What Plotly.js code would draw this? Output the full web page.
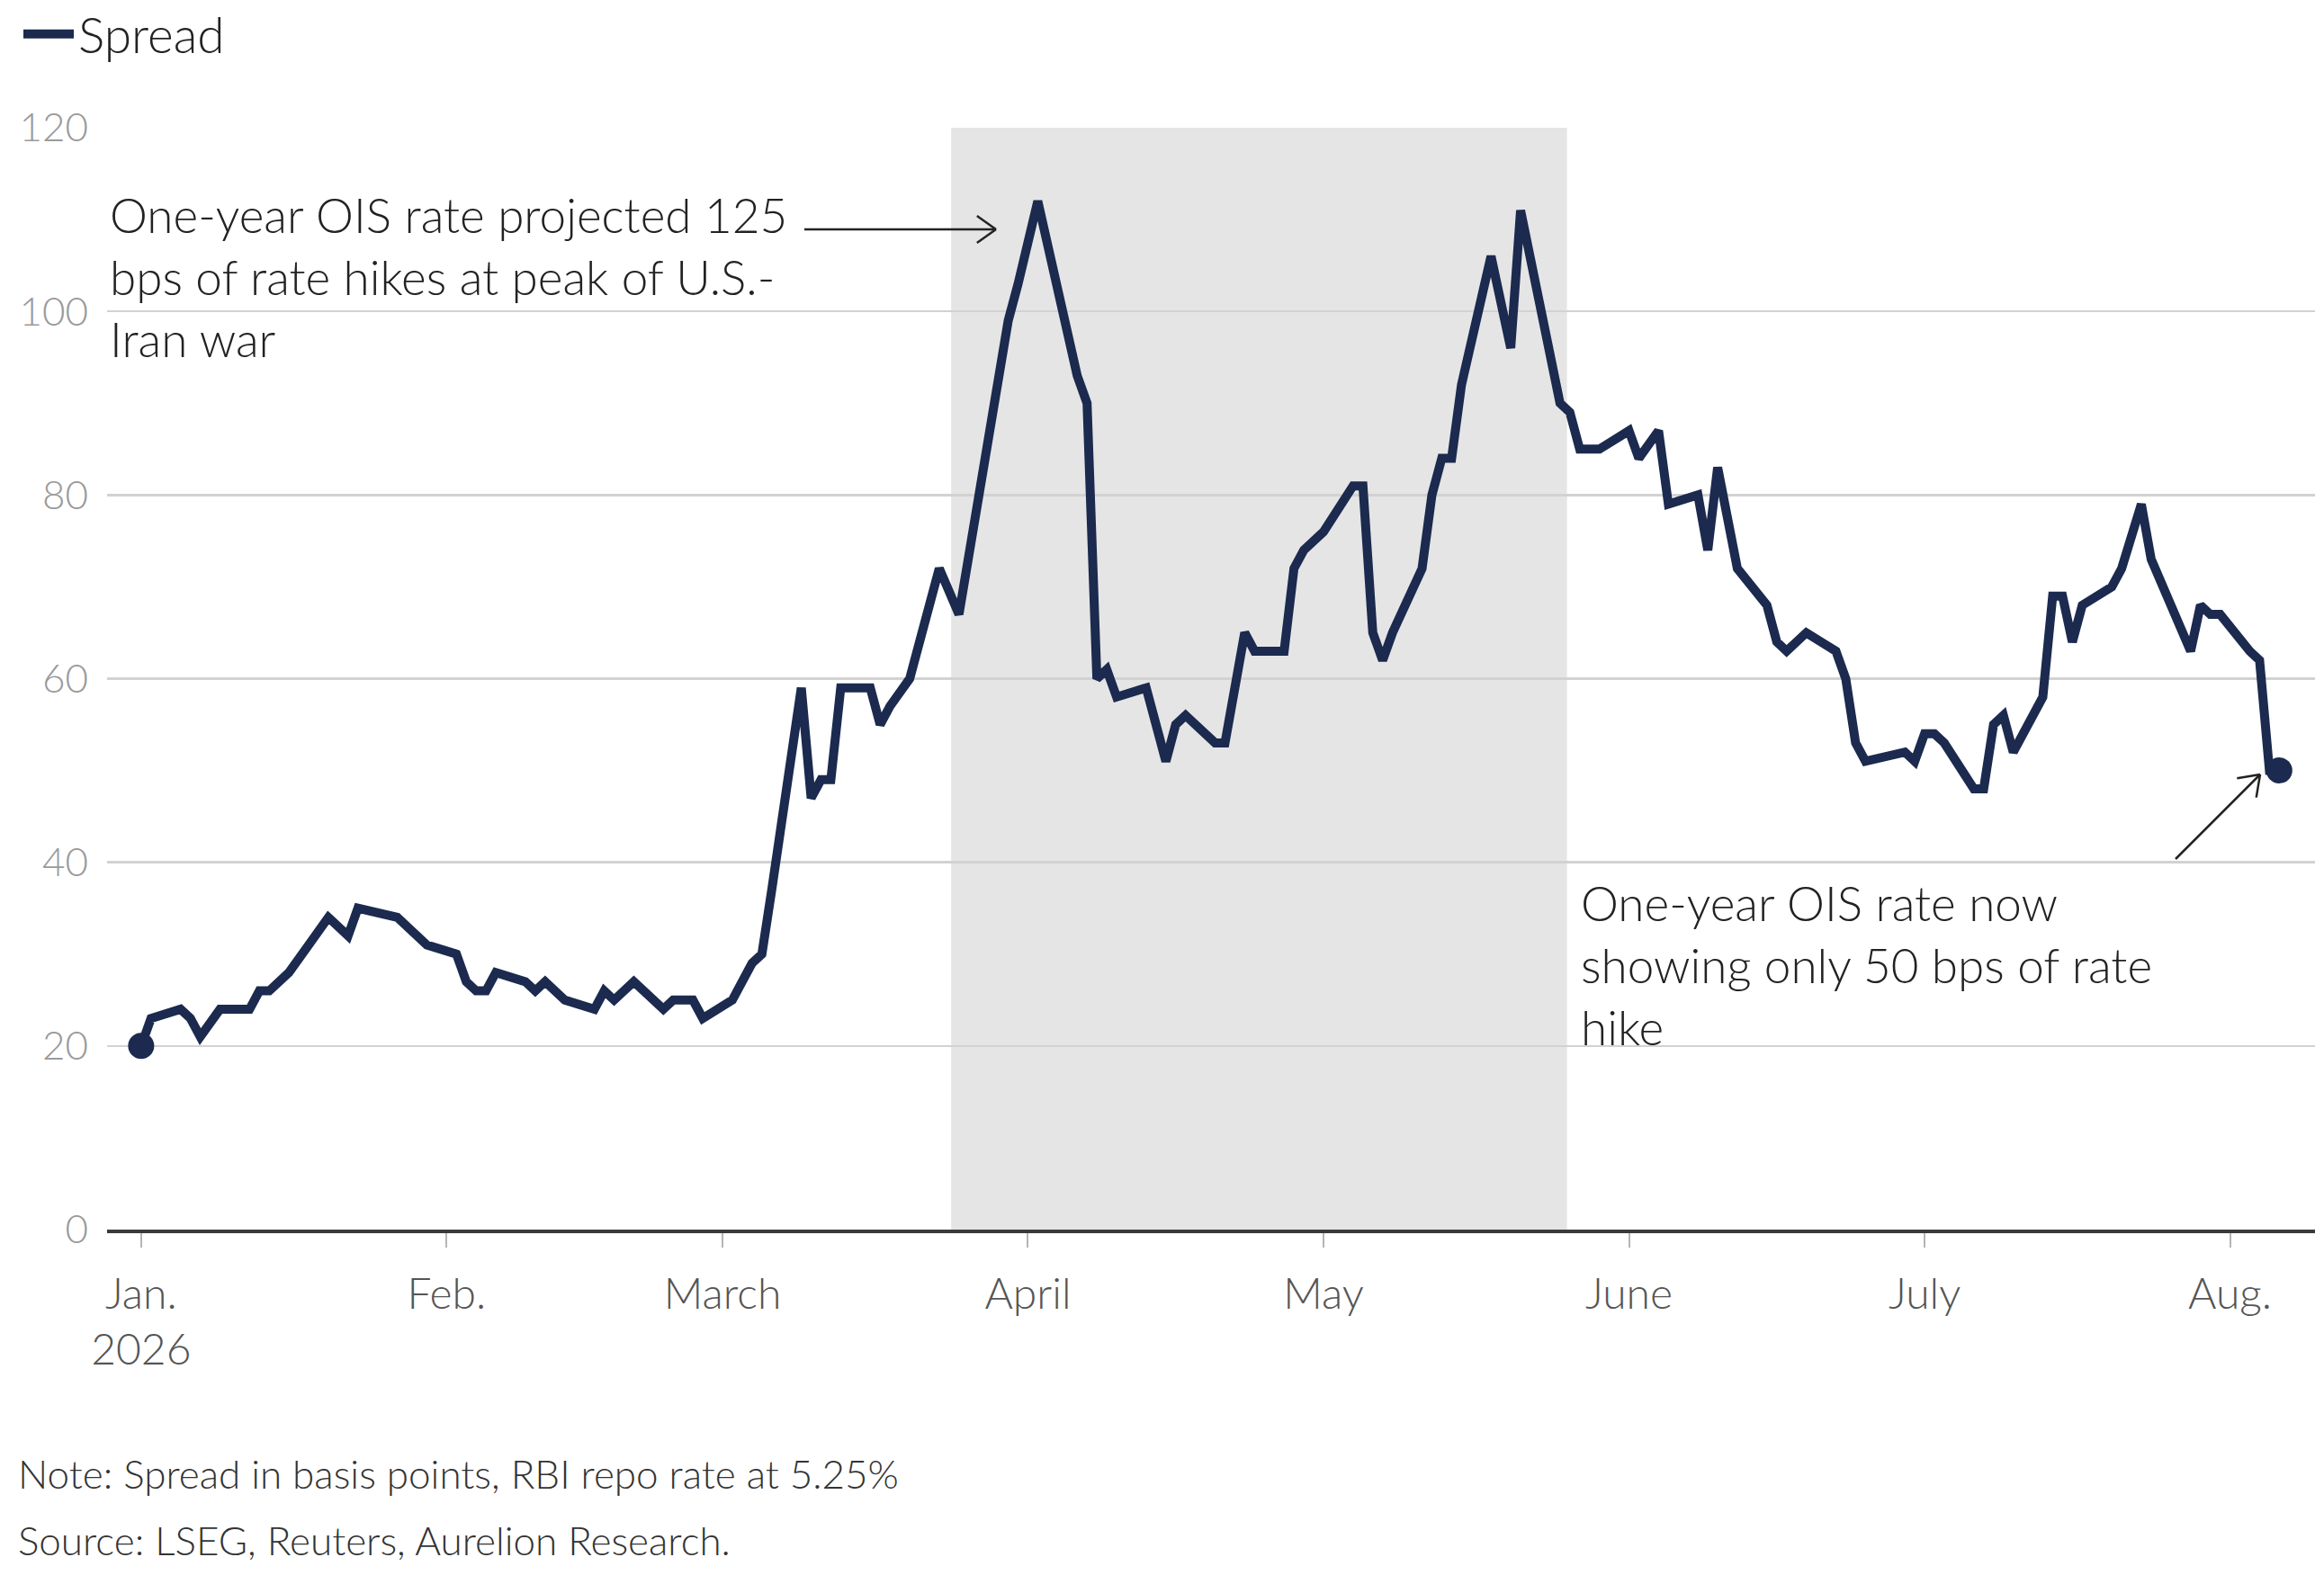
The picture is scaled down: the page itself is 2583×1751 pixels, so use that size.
<!DOCTYPE html>
<html>
<head>
<meta charset="utf-8">
<script src="https://cdn.plot.ly/plotly-3.0.1.min.js"></script>
<style>
  html, body { margin: 0; padding: 0; background: #ffffff; }
  #chart { width: 2583px; height: 1751px; }
</style>
</head>
<body>
<div id="chart"></div>
<script>
// Spread (bps), one point per trading day shown
const dates = [
    "2026-01-01", "2026-01-02", "2026-01-05", "2026-01-06", "2026-01-07", "2026-01-09", "2026-01-12", "2026-01-13",
    "2026-01-14", "2026-01-16", "2026-01-18", "2026-01-20", "2026-01-22", "2026-01-23", "2026-01-27", "2026-01-30",
    "2026-02-02", "2026-02-03", "2026-02-04", "2026-02-05", "2026-02-06", "2026-02-09", "2026-02-10", "2026-02-11",
    "2026-02-13", "2026-02-16", "2026-02-17", "2026-02-18", "2026-02-20", "2026-02-23", "2026-02-24", "2026-02-26",
    "2026-02-27",
    "2026-03-02", "2026-03-04", "2026-03-05", "2026-03-06", "2026-03-09", "2026-03-10", "2026-03-11", "2026-03-12",
    "2026-03-13", "2026-03-16", "2026-03-17", "2026-03-18", "2026-03-20", "2026-03-23", "2026-03-25", "2026-03-30",
    "2026-03-31",
    "2026-04-02", "2026-04-06", "2026-04-07", "2026-04-08", "2026-04-09", "2026-04-10", "2026-04-13", "2026-04-15",
    "2026-04-16", "2026-04-17", "2026-04-20", "2026-04-21", "2026-04-23", "2026-04-24", "2026-04-27", "2026-04-28",
    "2026-04-29",
    "2026-05-01", "2026-05-04", "2026-05-05", "2026-05-06", "2026-05-07", "2026-05-08", "2026-05-11", "2026-05-12",
    "2026-05-13", "2026-05-14", "2026-05-15", "2026-05-18", "2026-05-19", "2026-05-20", "2026-05-21", "2026-05-25",
    "2026-05-26", "2026-05-27", "2026-05-29",
    "2026-06-01", "2026-06-02", "2026-06-04", "2026-06-05", "2026-06-08", "2026-06-09", "2026-06-10", "2026-06-12",
    "2026-06-15", "2026-06-16", "2026-06-17", "2026-06-19", "2026-06-22", "2026-06-23", "2026-06-24", "2026-06-25",
    "2026-06-29", "2026-06-30",
    "2026-07-01", "2026-07-02", "2026-07-03", "2026-07-06", "2026-07-07", "2026-07-08", "2026-07-09", "2026-07-10",
    "2026-07-13", "2026-07-14", "2026-07-15", "2026-07-16", "2026-07-17", "2026-07-20", "2026-07-21", "2026-07-23",
    "2026-07-24", "2026-07-28", "2026-07-29", "2026-07-30", "2026-07-31",
    "2026-08-03", "2026-08-04", "2026-08-05", "2026-08-06"
]

const spread = [
    20, 23, 24, 23, 21, 24, 24, 26, 26, 28, 31, 34, 32, 35, 34, 31,
    30, 27, 26, 26, 28, 27, 26, 27, 25, 24, 26, 25, 27, 24, 25, 25, 23,
    25, 29, 30, 37, 59, 47, 49, 49, 59, 59, 55, 57, 60, 72, 67, 99, 103,
    112, 93, 90, 60, 61, 58, 59, 51, 55, 56, 53, 53, 65, 63, 63, 72, 74,
    76, 81, 81, 65, 62, 65, 72, 80, 84, 84, 92, 106, 101, 96, 111, 90, 89, 85, 85,
    87, 84, 87, 79, 80, 74, 83, 72, 68, 64, 63, 65, 63, 60, 53, 51, 52, 51,
    54, 54, 53, 48, 48, 55, 56, 52, 58, 69, 69, 64, 68, 70, 72, 79, 73, 63, 68, 67, 67,
    63, 62, 50, 50
]

// shaded war period
const warStart = "2026-03-24 05:00"
const warEnd = "2026-05-25 17:00"

const monthTicks = ["2026-01-01", "2026-02-01", "2026-03-01", "2026-04-01", "2026-05-01", "2026-06-01", "2026-07-01", "2026-08-01"]
const monthLabels = ["Jan.<br>2026", "Feb.", "March", "April", "May", "June", "July", "Aug."]
const yTicks = [0, 20, 40, 60, 80, 100, 120]

// plot box in page pixels, used to place the notes and arrows
const L = 119, R = 10, T = 142, B = 384
const W = 2583 - L - R, H = 1751 - T - B
const px = (x) => (x - L) / W
const py = (y) => (T + H - y) / H

const navy = "#1b2a4e"
const font = "Lato, 'Open Sans', sans-serif"

const traces = [
    {
        x: dates,
        y: spread,
        type: "scatter",
        mode: "lines",
        name: "Spread",
        line: {color: navy, width: 10, shape: "linear"},
        hoverinfo: "x+y"
    },
    {
        // first and last observation get a dot
        x: [dates[0], dates[dates.length - 1]],
        y: [spread[0], spread[spread.length - 1]],
        type: "scatter",
        mode: "markers",
        showlegend: false,
        marker: {color: navy, size: 29},
        hoverinfo: "skip"
    }
]

function arrow(x0, y0, x1, y1, headLen) {
    // shaft plus an open chevron head, all in paper units
    const ang = Math.atan2(y1 - y0, x1 - x0)
    const opening = 0.62
    const ax = x1 - headLen * Math.cos(ang - opening), ay = y1 - headLen * Math.sin(ang - opening)
    const bx = x1 - headLen * Math.cos(ang + opening), by = y1 - headLen * Math.sin(ang + opening)
    const line = {color: "#222", width: 2.5}
    return [
        {type: "line", xref: "paper", yref: "paper", x0: px(x0), y0: py(y0), x1: px(x1), y1: py(y1), line: line},
        {type: "line", xref: "paper", yref: "paper", x0: px(ax), y0: py(ay), x1: px(x1), y1: py(y1), line: line},
        {type: "line", xref: "paper", yref: "paper", x0: px(bx), y0: py(by), x1: px(x1), y1: py(y1), line: line}
    ]
}

const shapes = [
    {
        type: "rect", xref: "x", yref: "paper",
        x0: warStart, x1: warEnd, y0: 0, y1: 1,
        fillcolor: "#e5e5e5", line: {width: 0}, layer: "below"
    }
].concat(arrow(894, 255, 1107, 255, 26), arrow(2418, 955, 2512, 861, 26))

const noteFont = {family: font, size: 53, color: "#222222", weight: 300}

const annotations = [
    {
        xref: "paper", yref: "paper", x: px(120), y: py(205),
        xanchor: "left", yanchor: "top", align: "left", showarrow: false,
        text: "One-year OIS rate projected 125<br>bps of rate hikes at peak of U.S.-<br>Iran war",
        font: noteFont
    },
    {
        xref: "paper", yref: "paper", x: px(1755), y: py(970),
        xanchor: "left", yanchor: "top", align: "left", showarrow: false,
        text: "One-year OIS rate now<br>showing only 50 bps of rate<br>hike",
        font: noteFont
    },
    {
        xref: "paper", yref: "paper", x: px(18), y: py(1638),
        xanchor: "left", yanchor: "middle", showarrow: false,
        text: "Note: Spread in basis points, RBI repo rate at 5.25%",
        font: {family: font, size: 44, color: "#333333", weight: 300}
    },
    {
        xref: "paper", yref: "paper", x: px(18), y: py(1712),
        xanchor: "left", yanchor: "middle", showarrow: false,
        text: "Source: LSEG, Reuters, Aurelion Research.",
        font: {family: font, size: 44, color: "#333333", weight: 300}
    }
]

const layout = {
    width: 2583,
    height: 1751,
    margin: {l: L, r: R, t: T, b: B, pad: 0, autoexpand: false},
    paper_bgcolor: "#ffffff",
    plot_bgcolor: "#ffffff",
    font: {family: font, color: "#555555"},
    showlegend: true,
    legend: {
        x: px(21), y: py(38), xanchor: "left", yanchor: "middle",
        orientation: "h", itemwidth: 56,
        font: {family: font, size: 55, color: "#222222", weight: 300},
        bgcolor: "rgba(0,0,0,0)"
    },
    xaxis: {
        type: "date",
        range: ["2025-12-28 13:00", "2026-08-09 15:00"],
        tickmode: "array",
        tickvals: monthTicks,
        ticktext: monthLabels,
        ticks: "outside",
        ticklen: 16,
        tickwidth: 2,
        tickcolor: "#b5b5b5",
        ticklabelstandoff: 10,
        tickfont: {family: font, size: 48, color: "#555555", weight: 300},
        showgrid: false,
        showline: true,
        linecolor: "#3a3a3a",
        linewidth: 4,
        zeroline: false,
        fixedrange: true
    },
    yaxis: {
        range: [0, 120],
        tickmode: "array",
        tickvals: yTicks,
        ticks: "",
        ticklabelstandoff: 20,
        tickfont: {family: font, size: 44, color: "#9a9a9a", weight: 300},
        showgrid: true,
        gridcolor: "#d2d2d2",
        gridwidth: 2.5,
        zeroline: false,
        showline: false,
        fixedrange: true
    },
    shapes: shapes,
    annotations: annotations
}

Plotly.newPlot("chart", traces, layout, {displayModeBar: false, staticPlot: true})
</script>
</body>
</html>
